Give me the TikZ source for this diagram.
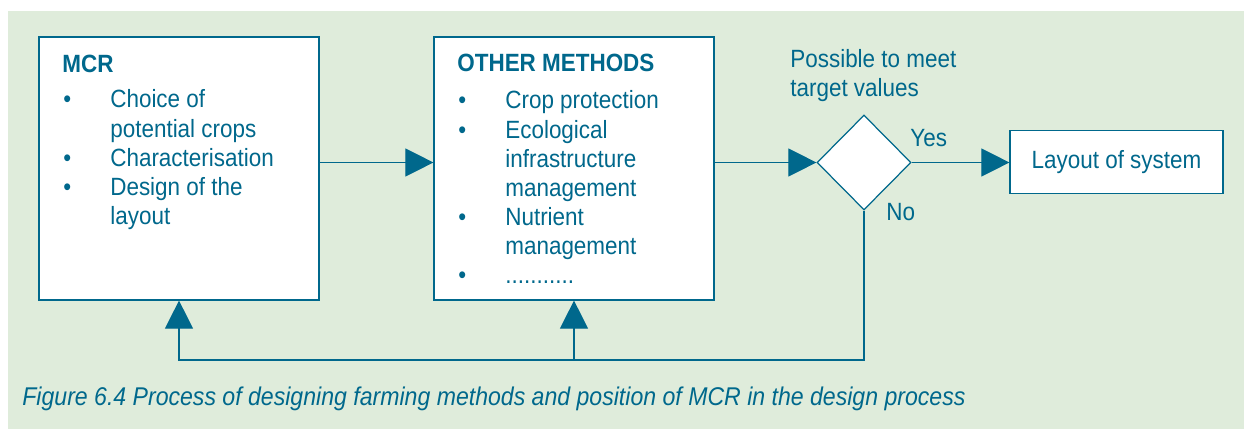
\documentclass[tikz,border=0pt]{standalone}
\usepackage{fontspec}
\setmainfont{Liberation Sans}[FakeStretch=0.9]
\usetikzlibrary{arrows.meta,shapes.geometric}
\definecolor{figblue}{RGB}{0,104,140}
\definecolor{bgreen}{RGB}{223,236,219}

\begin{document}
\begin{tikzpicture}[x=0.02cm,y=-0.02cm]
            \tikzstyle{box}=[draw=figblue,fill=white,line width=0.7pt,inner sep=0];
            \tikzstyle{txt}=[text=figblue,inner sep=0,font=\fontsize{14.2pt}{16.6pt}\selectfont];
            \tikzstyle{head}=[txt,font=\fontsize{14.2pt}{16.6pt}\selectfont\bfseries];
            \tikzstyle{flow}=[draw=figblue,line width=0.7pt,-{Triangle[length=16pt,width=16pt]}];
            \useasboundingbox (0,0) rectangle (1244,429);
            \fill[bgreen] (8,11) rectangle (1244,429);
            \node[box,minimum width=5.6cm,minimum height=5.26cm] (mcr) at (179,168.5) {};
            \node[box,minimum width=5.6cm,minimum height=5.26cm] (other) at (574,168.5) {};
            \node[box,diamond,minimum width=1.88cm,minimum height=1.9cm] (test) at (864,162.5) {};
            \node[box,txt,minimum width=4.26cm,minimum height=1.26cm] (layout) at (1116.5,162) {Layout of system};
            \node[head,anchor=base west] (mcrhead) at (62,73) {MCR};
            \node[txt,anchor=base west] (mcrlist) at (63,108) {\begin{tabular}[t]{@{}p{0.94cm}@{}l@{}}
                \textbullet & Choice of\\
                            & potential crops\\
                \textbullet & Characterisation\\
                \textbullet & Design of the\\
                            & layout
            \end{tabular}};
            \node[head,anchor=base west] (otherhead) at (457,72) {OTHER METHODS};
            \node[txt,anchor=base west] (otherlist) at (458,109) {\begin{tabular}[t]{@{}p{0.94cm}@{}l@{}}
                \textbullet & Crop protection\\
                \textbullet & Ecological\\
                            & infrastructure\\
                            & management\\
                \textbullet & Nutrient\\
                            & management\\
                \textbullet & ...........
            \end{tabular}};
            \node[txt,anchor=base west,align=left] (question) at (790,97) {Possible to meet\\target values};
            \node[txt,anchor=base west] (yes) at (910,147) {Yes};
            \node[txt,anchor=base west] (no) at (886,220) {No};
            \node[txt,anchor=base west,font=\fontsize{14.6pt}{16.6pt}\selectfont\itshape] (caption) at (22,405) {Figure 6.4 Process of designing farming methods and position of MCR in the design process};
            \coordinate (back) at (864,360);
            \draw[flow] (mcr.east |- test.west) -- (other.west |- test.west);
            \draw[flow] (other.east |- test.west) -- (test.west);
            \draw[flow] (test.east) -- (layout.west |- test.east);
            \draw[flow] (test.south) -- (back) -| (mcr.south);
            \draw[flow] (other.south |- back) -- (other.south);
\end{tikzpicture}
\end{document}
